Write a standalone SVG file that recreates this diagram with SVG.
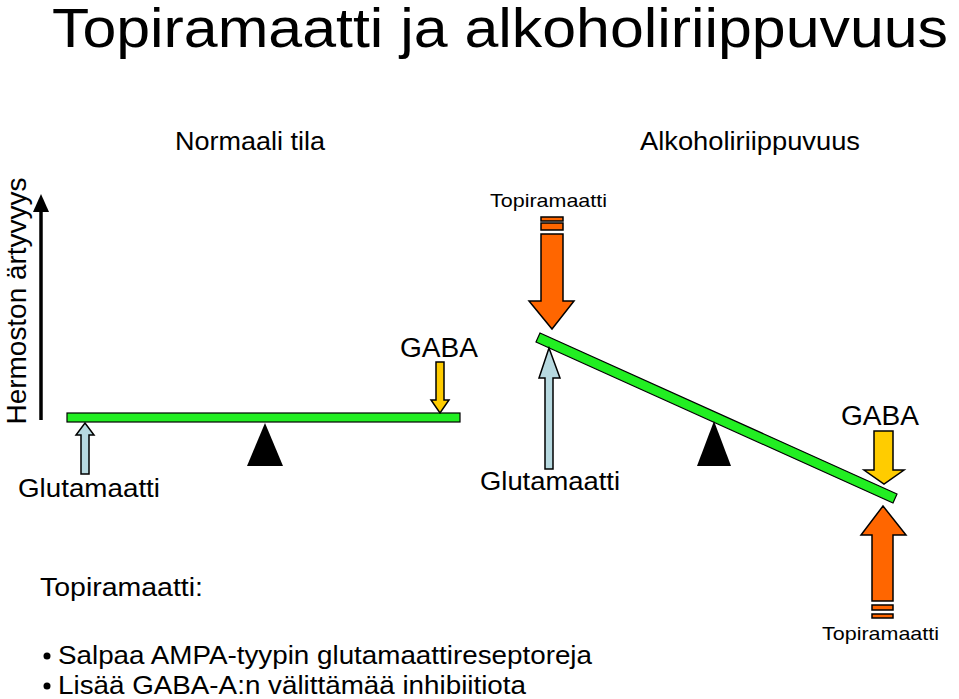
<svg xmlns="http://www.w3.org/2000/svg" width="959" height="699" viewBox="0 0 959 699">
<style>
text{font-family:"Liberation Sans",Arial,sans-serif;fill:#000}
.o{fill:#ff6600;stroke:#000;stroke-width:1.5}
.y{fill:#ffcc00;stroke:#000;stroke-width:1.5}
.b{fill:#b7d9e0;stroke:#000;stroke-width:1.5}
.g{fill:#22ee22;stroke:#000;stroke-width:1.2}
</style>
<rect width="959" height="699" fill="#fff"/>
<text x="52" y="47" font-size="55" textLength="896" lengthAdjust="spacingAndGlyphs">Topiramaatti ja alkoholiriippuvuus</text>
<text x="175" y="150" font-size="25" textLength="150" lengthAdjust="spacingAndGlyphs">Normaali tila</text>
<text x="640" y="150" font-size="25" textLength="220" lengthAdjust="spacingAndGlyphs">Alkoholiriippuvuus</text>
<g id="axis">
<line x1="41" y1="420" x2="41" y2="208" stroke="#000" stroke-width="3.5"/>
<polygon points="33,212 49,212 41,194" fill="#000"/>
<text transform="translate(26,301) rotate(-90)" font-size="27" text-anchor="middle" textLength="247" lengthAdjust="spacingAndGlyphs">Hermoston ärtyvyys</text>
</g>
<g id="normal">
<rect class="g" x="67" y="413" width="393" height="9"/>
<polygon points="265,423 247,466 283,466" fill="#000"/>
<polygon class="b" points="81,474 89,474 89,435 94,435 85,423 76,435 81,435"/>
<polygon class="y" points="436,362 444,362 444,400 449,400 440,413 431,400 436,400"/>
<text x="400" y="357" font-size="27" textLength="78" lengthAdjust="spacingAndGlyphs">GABA</text>
<text x="18" y="497" font-size="25" textLength="142" lengthAdjust="spacingAndGlyphs">Glutamaatti</text>
</g>
<g id="alcohol">
<polygon class="g" points="540,333 897,494 893,503 536,342"/>
<polygon points="714,421 697,466 731,466" fill="#000"/>
<polygon class="b" points="545,469 553,469 553,378 560,378 549,348 539,378 545,378"/>
<g class="o">
<rect x="541" y="217" width="22" height="4"/>
<rect x="541" y="223" width="22" height="7"/>
<polygon points="541,234 563,234 563,301 574,301 552,329 529,301 541,301"/>
<polygon points="872,601 893,601 893,535 906,535 883,506 861,535 872,535"/>
<rect x="872" y="605" width="21" height="5"/>
<rect x="872" y="614" width="21" height="4"/>
</g>
<polygon class="y" points="874,431 893,431 893,470 904,470 884,484 864,470 874,470"/>
<text x="490" y="207" font-size="19" textLength="117" lengthAdjust="spacingAndGlyphs">Topiramaatti</text>
<text x="841" y="425" font-size="27" textLength="78" lengthAdjust="spacingAndGlyphs">GABA</text>
<text x="480" y="490" font-size="25" textLength="140" lengthAdjust="spacingAndGlyphs">Glutamaatti</text>
<text x="822" y="640" font-size="19" textLength="117" lengthAdjust="spacingAndGlyphs">Topiramaatti</text>
</g>
<g id="notes">
<text x="40" y="596" font-size="25" textLength="163" lengthAdjust="spacingAndGlyphs">Topiramaatti:</text>
<circle cx="47" cy="656" r="3.5" fill="#000"/>
<text x="58" y="664" font-size="25" textLength="534" lengthAdjust="spacingAndGlyphs">Salpaa AMPA-tyypin glutamaattireseptoreja</text>
<circle cx="47" cy="686" r="3.5" fill="#000"/>
<text x="58" y="694" font-size="25" textLength="468" lengthAdjust="spacingAndGlyphs">Lisää GABA-A:n välittämää inhibiitiota</text>
</g>
</svg>
